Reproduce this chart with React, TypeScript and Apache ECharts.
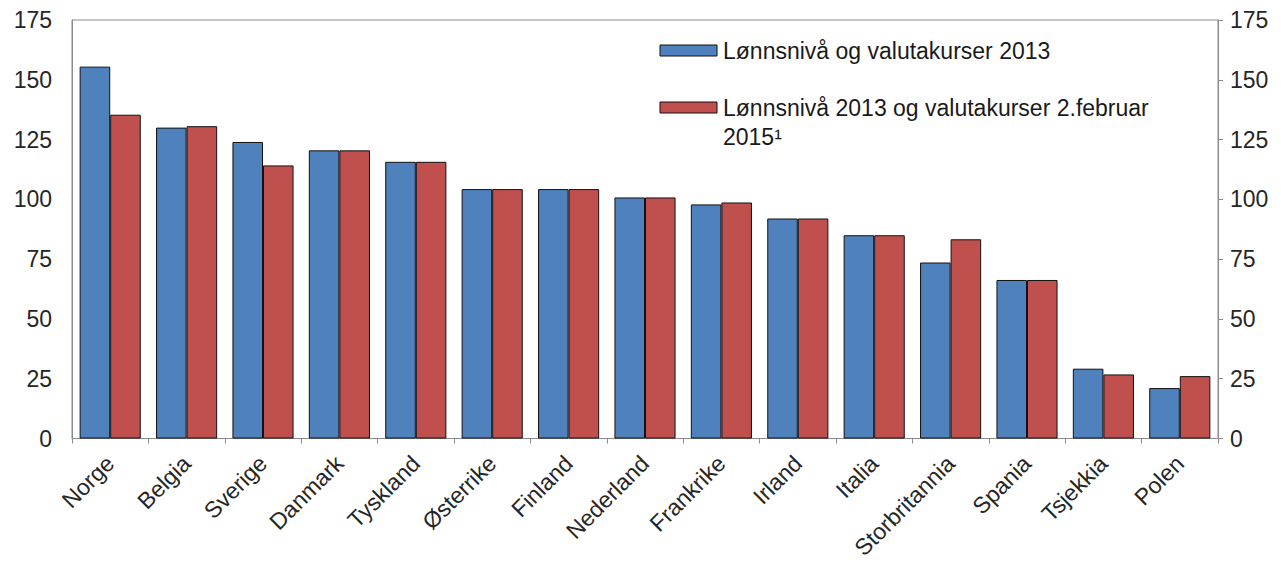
import React, { useEffect, useRef } from "react";
import * as echarts from "echarts";

const categories = [
  "Norge", "Belgia", "Sverige", "Danmark", "Tyskland", "Østerrike", "Finland",
  "Nederland", "Frankrike", "Irland", "Italia", "Storbritannia", "Spania", "Tsjekkia", "Polen",
];
const series2013 = [155.5, 130, 124, 120.5, 115.7, 104.3, 104.3, 100.8, 97.9, 92, 85, 73.6, 66.3, 29.2, 21.1];
const seriesFeb2015 = [135.4, 130.6, 114.2, 120.5, 115.7, 104.3, 104.3, 100.8, 98.7, 92, 85, 83.3, 66.3, 26.8, 26.1];
const name2013 = "Lønnsnivå og valutakurser 2013";
const nameFeb2015 = "Lønnsnivå 2013 og valutakurser 2.februar\n2015¹";
const yTicks = { min: 0, max: 175, interval: 25 };

const BLUE = "#4F81BD";
const RED = "#C0504D";
const FONT = "'Liberation Sans', Arial, sans-serif";

export default function App() {
  const ref = useRef<HTMLDivElement>(null);
  useEffect(() => {
    if (!ref.current) return;
    const chart = echarts.init(ref.current, null, { renderer: "svg" });
    const axisLabelStyle = { fontSize: 23, color: "#262626", fontFamily: FONT };
    chart.setOption({
      animation: false,
      backgroundColor: "#ffffff",
      grid: {
        left: 72, right: 63, top: 20, bottom: 122,
        show: true, borderColor: "#8c8c8c", borderWidth: 1,
      },
      xAxis: {
        type: "category",
        data: categories,
        axisLine: { show: true, lineStyle: { color: "#8c8c8c", width: 1 } },
        axisTick: { show: true, alignWithLabel: false, length: 5, lineStyle: { color: "#8c8c8c" } },
        axisLabel: { ...axisLabelStyle, rotate: 45, margin: 21, interval: 0 },
      },
      yAxis: [
        {
          type: "value", position: "left", ...yTicks,
          splitLine: { show: false },
          axisLine: { show: true, lineStyle: { color: "#8c8c8c" } },
          axisTick: { show: false },
          axisLabel: { ...axisLabelStyle, margin: 20 },
        },
        {
          type: "value", position: "right", ...yTicks,
          splitLine: { show: false },
          axisLine: { show: true, lineStyle: { color: "#8c8c8c" } },
          axisTick: { show: true, inside: false, length: 5, lineStyle: { color: "#8c8c8c" } },
          axisLabel: { ...axisLabelStyle, margin: 12 },
        },
      ],
      series: [
        {
          name: name2013, type: "bar", data: series2013, yAxisIndex: 0,
          barGap: "0%", barCategoryGap: "20%",
          itemStyle: { color: BLUE, borderColor: "#111", borderWidth: 1 },
        },
        {
          name: nameFeb2015, type: "bar", data: seriesFeb2015, yAxisIndex: 0,
          barGap: "0%", barCategoryGap: "20%",
          itemStyle: { color: RED, borderColor: "#111", borderWidth: 1 },
        },
      ],
      graphic: [
        { type: "rect", shape: { x: 660, y: 45, width: 57, height: 11 }, style: { fill: BLUE, stroke: "#111", lineWidth: 1 } },
        { type: "text", x: 723, y: 51, style: { text: name2013, font: `23px ${FONT}`, fill: "#1a1a1a", verticalAlign: "middle" } },
        { type: "rect", shape: { x: 660, y: 102, width: 57, height: 11 }, style: { fill: RED, stroke: "#111", lineWidth: 1 } },
        { type: "text", x: 723, y: 93, style: { text: nameFeb2015, font: `23px ${FONT}`, fill: "#1a1a1a", verticalAlign: "top", lineHeight: 29 } },
      ],
    });
    return () => chart.dispose();
  }, []);
  return <div ref={ref} style={{ position: "fixed", left: 0, top: 0, width: 1281, height: 562 }} />;
}
